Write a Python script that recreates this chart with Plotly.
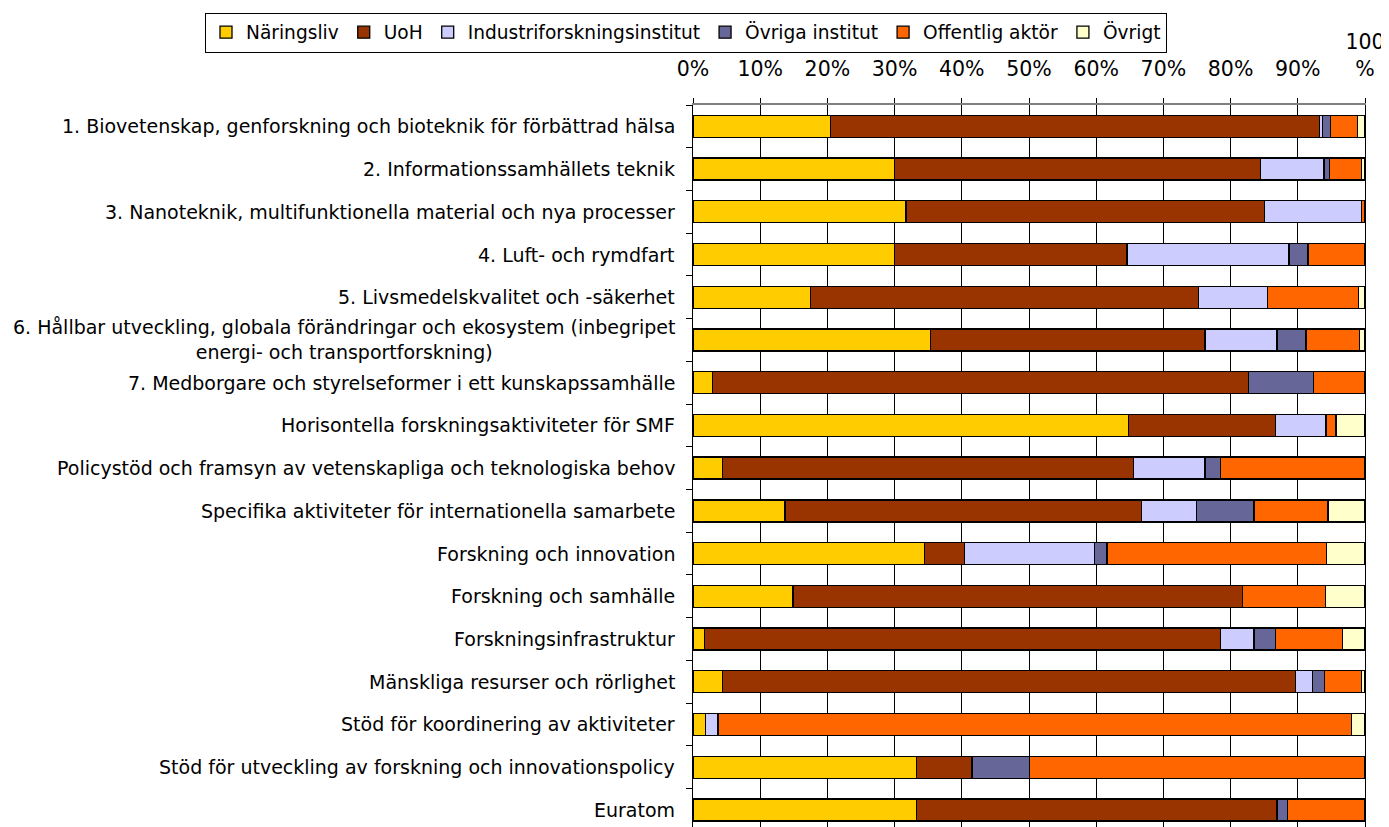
import plotly.graph_objects as go

categories = [
    "1. Biovetenskap, genforskning och bioteknik för förbättrad hälsa",
    "2. Informationssamhällets teknik",
    "3. Nanoteknik, multifunktionella material och nya processer",
    "4. Luft- och rymdfart",
    "5. Livsmedelskvalitet och -säkerhet",
    "6. Hållbar utveckling, globala förändringar och ekosystem (inbegripet<br>energi- och transportforskning)",
    "7. Medborgare och styrelseformer i ett kunskapssamhälle",
    "Horisontella forskningsaktiviteter för SMF",
    "Policystöd och framsyn av vetenskapliga och teknologiska behov",
    "Specifika aktiviteter för internationella samarbete",
    "Forskning och innovation",
    "Forskning och samhälle",
    "Forskningsinfrastruktur",
    "Mänskliga resurser och rörlighet",
    "Stöd för koordinering av aktiviteter",
    "Stöd för utveckling av forskning och innovationspolicy",
    "Euratom",
]

series_names = ["Näringsliv", "UoH", "Industriforskningsinstitut",
                "Övriga institut", "Offentlig aktör", "Övrigt"]

naringsliv = [20.5, 30.0, 31.7, 30.0, 17.5, 35.3, 2.9, 64.8, 4.4, 13.7, 34.5, 14.9, 1.7, 4.4, 1.9, 33.3, 33.3]
uoh        = [72.7, 54.5, 53.3, 34.6, 57.7, 40.9, 79.8, 21.9, 61.2, 53.0, 5.9, 66.9, 76.8, 85.3, 0.0, 8.2, 53.6]
industri   = [0.5, 9.4, 14.5, 24.1, 10.3, 10.7, 0.0, 7.4, 10.6, 8.2, 19.3, 0.0, 5.0, 2.5, 1.8, 0.0, 0.0]
ovr_inst   = [1.2, 0.8, 0.0, 2.8, 0.0, 4.3, 9.6, 0.2, 2.3, 8.6, 1.9, 0.0, 3.2, 1.8, 0.0, 8.6, 1.6]
offentlig  = [4.0, 4.8, 0.5, 8.5, 13.5, 8.0, 7.7, 1.4, 21.5, 11.0, 32.7, 12.3, 10.0, 5.5, 94.3, 49.9, 11.5]
ovrigt     = [1.1, 0.5, 0.0, 0.0, 1.0, 0.8, 0.0, 4.3, 0.0, 5.5, 5.7, 5.9, 3.3, 0.5, 2.0, 0.0, 0.0]

colors = ["#FFCC00", "#993300", "#CCCCFF", "#666699", "#FF6600", "#FFFFCC"]

tick_vals = [0, 10, 20, 30, 40, 50, 60, 70, 80, 90, 100]
tick_text = ["0%", "10%", "20%", "30%", "40%", "50%", "60%", "70%", "80%", "90%", "100<br>%"]

FONT = "DejaVu Sans"

# the page body has an 8px default margin; the figure is sized to fit the window
OFF = 8
FIG_W, FIG_H = 1389 - OFF, 827 - OFF
PLOT_L, PLOT_R, PLOT_T = 693 - OFF, 1365 - OFF, 104.5 - OFF
PLOT_W = PLOT_R - PLOT_L
PLOT_H = FIG_H - PLOT_T

fig = go.Figure()
for name, vals, col in zip(series_names,
                           [naringsliv, uoh, industri, ovr_inst, offentlig, ovrigt],
                           colors):
    fig.add_trace(go.Bar(
        y=categories,
        x=[v if v > 0 else None for v in vals],
        name=name,
        orientation="h",
        marker=dict(color=col, line=dict(color="#000000", width=1.3)),
    ))

for cat in categories:
    fig.add_annotation(
        x=0, xref="paper", y=cat, yref="y",
        text=cat, showarrow=False,
        xanchor="right", yanchor="middle", align="center",
        xshift=-16,
        font=dict(family=FONT, size=19, color="#000000"),
    )

fig.update_layout(
    template="none",
    width=FIG_W, height=FIG_H,
    barmode="stack",
    bargap=0.485,
    plot_bgcolor="#FFFFFF",
    paper_bgcolor="#FFFFFF",
    margin=dict(l=PLOT_L, r=FIG_W - PLOT_R, t=PLOT_T, b=0, autoexpand=False),
    font=dict(family=FONT, size=19, color="#000000"),
    showlegend=True,
    legend=dict(
        orientation="h",
        xref="paper", yref="paper",
        x=(205 - OFF - PLOT_L) / PLOT_W, xanchor="left",
        y=1 + (PLOT_T - (12 - OFF)) / PLOT_H, yanchor="top",
        bgcolor="#FFFFFF", bordercolor="#000000", borderwidth=1,
        font=dict(family=FONT, size=18.6, color="#000000"),
        traceorder="normal",
        itemwidth=30,
    ),
    xaxis=dict(
        side="top",
        range=[0, 100],
        tickvals=tick_vals,
        ticktext=tick_text,
        ticks="outside", ticklen=5, tickcolor="#000000", tickwidth=1,
        ticklabelstandoff=14,
        showline=True, linecolor="#808080", linewidth=2,
        showgrid=True, gridcolor="#000000", gridwidth=1,
        zeroline=False,
        automargin=False,
        tickfont=dict(family=FONT, size=20.5, color="#000000"),
        fixedrange=True,
    ),
    yaxis=dict(
        type="category",
        categoryorder="array",
        categoryarray=categories,
        range=[16.4, -0.5],
        showticklabels=False,
        ticks="outside", ticklen=6, tickcolor="#000000", tickson="boundaries",
        showline=True, linecolor="#000000", linewidth=1,
        mirror=True,
        showgrid=False,
        zeroline=False,
        automargin=False,
        fixedrange=True,
    ),
)

fig.write_html("out.html")
